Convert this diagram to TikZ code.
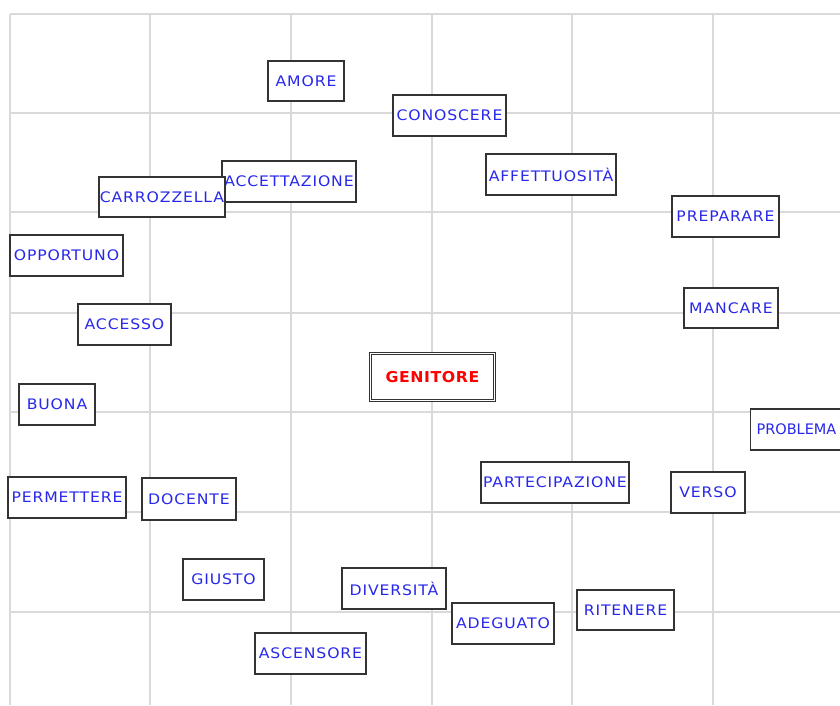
\documentclass[tikz,border=0pt]{standalone}
\usepackage{fontspec}
\newfontfamily\labfont[FakeStretch=1.08,LetterSpace=6]{DejaVu Sans}
\newfontfamily\edgelabfont{DejaVu Sans}
\newfontfamily\mainlabfont[FakeStretch=1.05,LetterSpace=4]{DejaVu Sans}
\definecolor{gridgray}{RGB}{217,217,217}
\definecolor{wordblue}{RGB}{40,40,235}
\definecolor{wordred}{RGB}{255,0,0}
\definecolor{boxline}{RGB}{51,51,51}
\newcommand\wbox[6]{\node[wordbox, minimum width={#4-#2}, minimum height={#5-#3}] (#1) at ({(#2+#4)/2},{(#3+#5)/2}) {\makebox[0pt]{#6}};}
\tikzset{
  wordbox/.style={draw=boxline, line width=1.1pt, fill=white, rectangle, inner sep=0pt,
    font=\labfont\fontsize{14.5}{17}\selectfont, text=wordblue},
  centerbox/.style={draw=boxline, line width=1pt, double=white, double distance=1.6pt, fill=white,
    rectangle, inner sep=0pt, font=\mainlabfont\bfseries\fontsize{15}{18}\selectfont, text=wordred},
  gridline/.style={draw=gridgray, line width=1.2pt}
}
\begin{document}
\begin{tikzpicture}[x=1pt,y=-1pt]
\useasboundingbox[fill=white] (0,0) rectangle (840,705);
\clip (0,0) rectangle (840,705);
% grid
\foreach \gx in {10,150,291,432,572,713} \draw[gridline] (\gx,14) -- (\gx,705);
\foreach \gy in {14,113,212,313,412,512,612} \draw[gridline] (10,\gy) -- (840,\gy);
% words
\wbox{amore}{268}{61}{344}{101}{AMORE}
\wbox{conoscere}{393}{95}{506}{136}{CONOSCERE}
\wbox{accettazione}{222}{161}{356}{202}{ACCETTAZIONE}
\wbox{affettuosita}{486}{154}{616}{195}{AFFETTUOSITÀ}
\wbox{carrozzella}{99}{177}{225}{217}{CARROZZELLA}
\wbox{preparare}{672}{196}{779}{237}{PREPARARE}
\wbox{opportuno}{10}{235}{123}{276}{OPPORTUNO}
\wbox{mancare}{684}{288}{778}{328}{MANCARE}
\wbox{accesso}{78}{304}{171}{345}{ACCESSO}
\wbox{buona}{19}{384}{95}{425}{BUONA}
\node[wordbox, font=\edgelabfont\fontsize{14.5}{17}\selectfont, minimum height=41pt, inner xsep=6pt, anchor=west] (problema) at (750,429.5) {PROBLEMA};
\wbox{partecipazione}{481}{462}{629}{503}{PARTECIPAZIONE}
\wbox{verso}{671}{472}{745}{513}{VERSO}
\wbox{permettere}{8}{477}{126}{518}{PERMETTERE}
\wbox{docente}{142}{478}{236}{520}{DOCENTE}
\wbox{giusto}{183}{559}{264}{600}{GIUSTO}
\wbox{diversita}{342}{568}{446}{609}{DIVERSITÀ}
\wbox{ritenere}{577}{590}{674}{630}{RITENERE}
\wbox{adeguato}{452}{603}{554}{644}{ADEGUATO}
\wbox{ascensore}{255}{633}{366}{674}{ASCENSORE}
% central word
\node[centerbox, minimum width=124pt, minimum height=47pt] (genitore) at (432.5,377) {GENITORE};
\end{tikzpicture}
\end{document}
